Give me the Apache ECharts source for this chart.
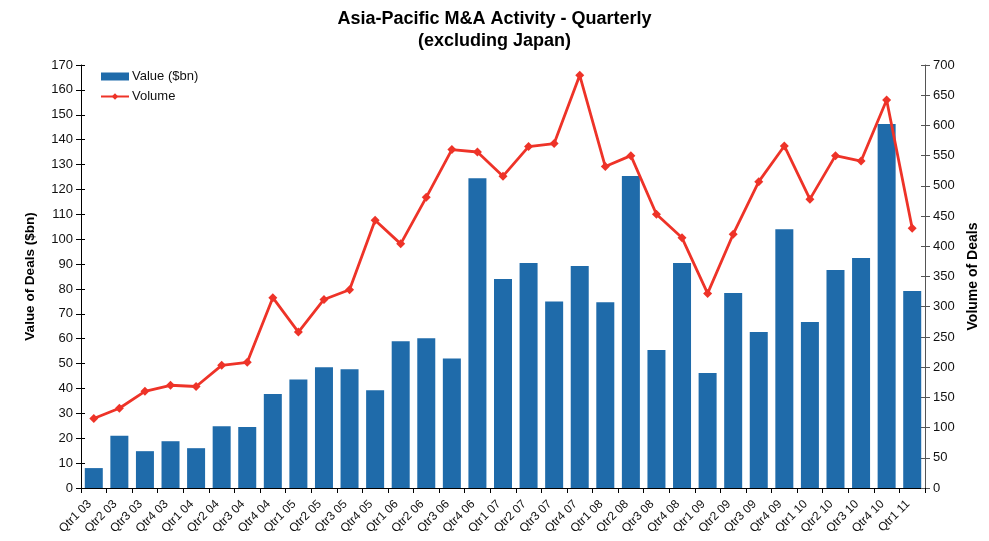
<!DOCTYPE html>
<html>
<head>
<meta charset="utf-8">
<script src="https://cdn.jsdelivr.net/npm/echarts@6/dist/echarts.min.js"></script>
<style>
  html, body { margin: 0; padding: 0; background: #fff; }
  #chart { width: 989px; height: 541px; }
</style>
</head>
<body>
<div id="chart"></div>
<script>
// Quarterly categories
const quarters = [
  'Qtr1 03','Qtr2 03','Qtr3 03','Qtr4 03',
  'Qtr1 04','Qtr2 04','Qtr3 04','Qtr4 04',
  'Qtr1 05','Qtr2 05','Qtr3 05','Qtr4 05',
  'Qtr1 06','Qtr2 06','Qtr3 06','Qtr4 06',
  'Qtr1 07','Qtr2 07','Qtr3 07','Qtr4 07',
  'Qtr1 08','Qtr2 08','Qtr3 08','Qtr4 08',
  'Qtr1 09','Qtr2 09','Qtr3 09','Qtr4 09',
  'Qtr1 10','Qtr2 10','Qtr3 10','Qtr4 10',
  'Qtr1 11'
];

// Deal value, $bn (left axis)
const dealValue = [
  8, 21, 14.8, 18.8,
  16, 24.8, 24.5, 37.8,
  43.6, 48.5, 47.7, 39.3,
  59, 60.2, 52, 124.5,
  84, 90.4, 75, 89.2,
  74.7, 125.4, 55.5, 90.4,
  46.2, 78.4, 62.7, 104,
  66.7, 87.6, 92.4, 146.3,
  79.2
];

// Number of deals (right axis)
const dealVolume = [
  115, 132, 160, 170,
  168, 203, 208, 315,
  258, 312, 328, 443,
  404, 481, 560, 556,
  516, 565, 570, 683,
  532, 550, 453, 414,
  322, 420, 507, 566,
  478, 550, 541, 642,
  430
];

const FONT = '"Liberation Sans", Arial, sans-serif';
const chart = echarts.init(document.getElementById('chart'), null, { renderer: 'canvas' });

// Helper: an extra unlabeled axis that only draws the inner half of the ticks,
// so the value-axis ticks cross the axis line.
function innerTicks(pos, max, interval, color) {
  return {
    type: 'value',
    min: 0, max: max, interval: interval,
    position: pos,
    axisLine: { show: false },
    axisLabel: { show: false },
    splitLine: { show: false },
    axisTick: { show: true, inside: true, length: 4, lineStyle: { color: color } }
  };
}

chart.setOption({
  animation: false,
  backgroundColor: '#ffffff',
  textStyle: { fontFamily: FONT, color: '#222' },
  title: {
    text: 'Asia-Pacific M&A Activity - Quarterly\n(excluding Japan)',
    left: 'center',
    top: 3,
    textStyle: { fontFamily: FONT, fontSize: 18, fontWeight: 'bold', color: '#000', lineHeight: 22 }
  },
  legend: {
    orient: 'vertical',
    left: 95,
    top: 65,
    itemGap: 7,
    itemWidth: 28,
    itemHeight: 8,
    textStyle: { fontFamily: FONT, fontSize: 13, color: '#111', padding: [0, 0, 0, -2] },
    data: [
      { name: 'Value ($bn)', icon: 'rect' },
      { name: 'Volume' }
    ]
  },
  grid: { left: 81, right: 64, top: 65, bottom: 53, containLabel: false },
  xAxis: {
    type: 'category',
    data: quarters,
    boundaryGap: true,
    axisLine: { lineStyle: { color: '#000', width: 1 } },
    axisTick: { show: true, alignWithLabel: false, length: 5, lineStyle: { color: '#000' } },
    axisLabel: {
      interval: 0,
      rotate: 45,
      fontFamily: FONT,
      fontSize: 12,
      color: '#111',
      margin: 10,
      padding: [0, 6, 0, 0]
    }
  },
  yAxis: [
    {
      type: 'value',
      min: 0, max: 170, interval: 10,
      name: 'Value of Deals ($bn)',
      nameLocation: 'middle',
      nameRotate: 90,
      nameGap: 44,
      nameTextStyle: { fontFamily: FONT, fontSize: 13.5, fontWeight: 'bold', color: '#000' },
      axisLine: { show: true, lineStyle: { color: '#000' } },
      axisTick: { show: true, length: 5, lineStyle: { color: '#000' } },
      splitLine: { show: false },
      axisLabel: { fontFamily: FONT, fontSize: 13, color: '#111', margin: 8 }
    },
    {
      type: 'value',
      min: 0, max: 700, interval: 50,
      position: 'right',
      name: 'Volume of Deals',
      nameLocation: 'middle',
      nameRotate: 90,
      nameGap: 41,
      nameTextStyle: { fontFamily: FONT, fontSize: 14, fontWeight: 'bold', color: '#000' },
      axisLine: { show: true, lineStyle: { color: '#555' } },
      axisTick: { show: true, length: 5, lineStyle: { color: '#555' } },
      splitLine: { show: false },
      axisLabel: { fontFamily: FONT, fontSize: 13, color: '#111', margin: 8 }
    },
    innerTicks('left', 170, 10, '#000'),
    innerTicks('right', 700, 50, '#555')
  ],
  series: [
    {
      name: 'Value ($bn)',
      type: 'bar',
      yAxisIndex: 0,
      data: dealValue,
      barWidth: 18,
      itemStyle: { color: '#1F6BAA' }
    },
    {
      name: 'Volume',
      type: 'line',
      yAxisIndex: 1,
      data: dealVolume,
      symbol: 'diamond',
      symbolSize: 9,
      lineStyle: { color: '#EE3328', width: 2.8 },
      itemStyle: { color: '#EE3328' }
    }
  ]
});
</script>
</body>
</html>
